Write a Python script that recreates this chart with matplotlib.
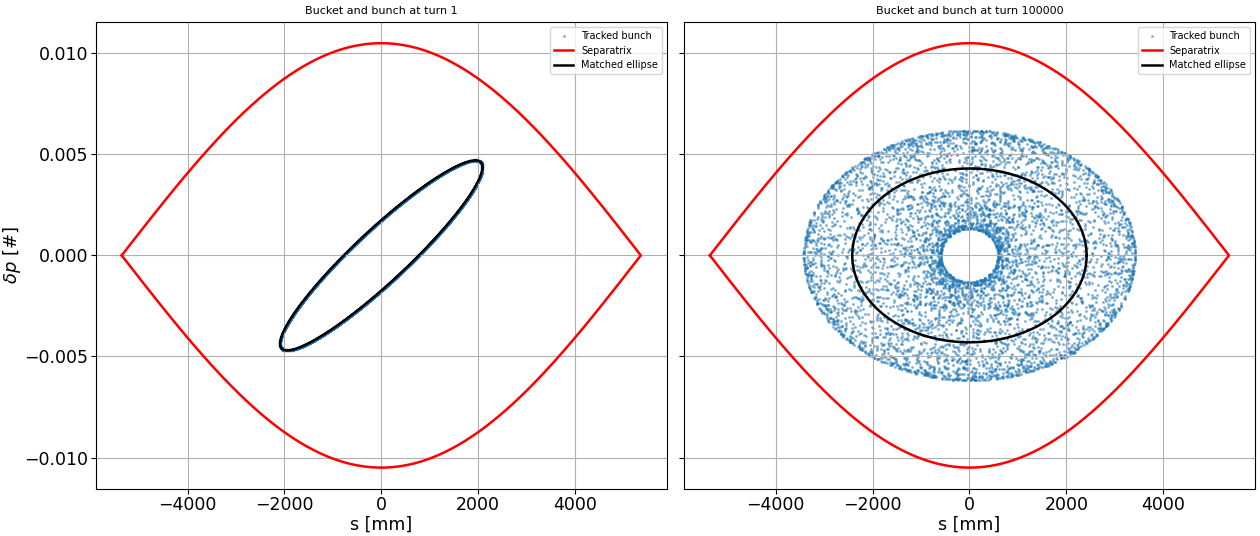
import numpy as np
import matplotlib
matplotlib.use('Agg')
import matplotlib.pyplot as plt

# bucket (separatrix of a stationary bucket)
sep_half_length = 5360.0   # mm
sep_height = 0.0105

# bunch at turn 1: particles on a tilted ellipse
# s = S cos(t), dp = D cos(t - tilt)
bunch_s_amp = 2090.0
bunch_dp_amp = 0.0047
bunch_tilt = 0.38
n_particles = 6000

# matched ellipse of the bucket
match_s = 2420.0
match_dp = 0.0043
# orbit shape vs normalised action: scale = a + b * r^2 (non-linear bucket)
orbit_s_coef = (0.95, 0.045)
orbit_dp_coef = (1.20, -0.08)

n_turns = 100000
tune_shift = 1.37e-2        # synchrotron tune change per unit normalised action


def separatrix():
    s = np.linspace(-sep_half_length, sep_half_length, 400)
    dp = sep_height * np.cos(np.pi * s / (2 * sep_half_length))
    return np.concatenate([s, s[::-1]]), np.concatenate([dp, -dp[::-1]])


t = np.linspace(0, 2 * np.pi, n_particles, endpoint=False)
s0 = bunch_s_amp * np.cos(t)
dp0 = bunch_dp_amp * np.cos(t - bunch_tilt)

# filamentation: each particle keeps its amplitude, phase advances with amplitude
x = s0 / match_s
y = dp0 / match_dp
r = np.hypot(x, y)
psi = np.arctan2(y, x) + 2 * np.pi * n_turns * tune_shift * r**2
s_scale = orbit_s_coef[0] + orbit_s_coef[1] * r**2
dp_scale = orbit_dp_coef[0] + orbit_dp_coef[1] * r**2
s1 = r * np.cos(psi) * match_s * s_scale
dp1 = r * np.sin(psi) * match_dp * dp_scale

tt = np.linspace(0, 2 * np.pi, 400)
sep_s, sep_dp = separatrix()

fig, (ax1, ax2) = plt.subplots(1, 2, figsize=(12.6, 5.36), dpi=100, sharey=True)
fig.subplots_adjust(left=0.076, right=0.996, top=0.959, bottom=0.088, wspace=0.03)

ax1.scatter(s0, dp0, s=1.5, color='tab:blue', alpha=0.4, label='Tracked bunch')
ax1.plot(sep_s, sep_dp, color='red', lw=1.8, label='Separatrix')
ax1.plot(bunch_s_amp * np.cos(tt), bunch_dp_amp * np.cos(tt - bunch_tilt),
         color='black', lw=1.8, label='Matched ellipse')
ax1.set_title('Bucket and bunch at turn 1', fontsize=8)

ax2.scatter(s1, dp1, s=1.5, color='tab:blue', alpha=0.4, label='Tracked bunch')
ax2.plot(sep_s, sep_dp, color='red', lw=1.8, label='Separatrix')
ax2.plot(match_s * np.cos(tt), match_dp * np.sin(tt),
         color='black', lw=1.8, label='Matched ellipse')
ax2.set_title('Bucket and bunch at turn %d' % n_turns, fontsize=8)

ax1.set_ylabel(r'$\delta p$ [#]', fontsize=13, labelpad=1)
for ax in (ax1, ax2):
    ax.grid(True)
    ax.set_xlabel('s [mm]', fontsize=12.5, labelpad=1)
    ax.tick_params(labelsize=12.5, pad=2)
    ax.legend(loc='upper right', fontsize=7)

fig.savefig('out.png', dpi=100)
